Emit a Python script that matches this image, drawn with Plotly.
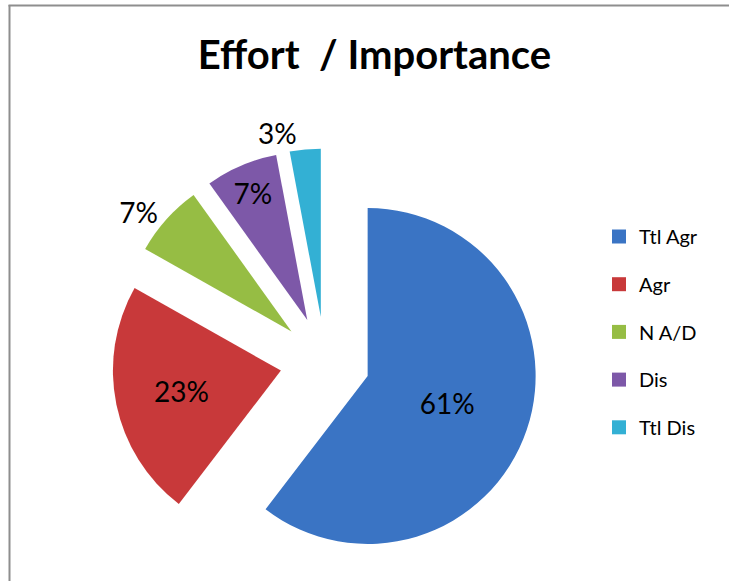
import plotly.graph_objects as go

# Survey response shares
categories = ["Ttl Agr", "Agr", "N A/D", "Dis", "Ttl Dis"]
values = [61, 23, 7, 7, 3]
colors = ["#3a74c4", "#c8393a", "#96bd44", "#7d58a8", "#33b0d4"]
label_pos = ["inside", "inside", "outside", "inside", "outside"]

W, H = 729, 581
FONT = "Lato"

fig = go.Figure()

fig.add_trace(go.Pie(
    labels=categories,
    values=values,
    sort=False,
    direction="clockwise",
    rotation=0,
    pull=[0.268] * len(values),
    marker=dict(colors=colors, line=dict(width=0)),
    texttemplate="%{value}%",
    textposition=label_pos,
    insidetextorientation="horizontal",
    textfont=dict(family=FONT, size=28, color="#000000"),
    domain=dict(x=[112 / W, 538 / W], y=[1 - 574.5 / H, 1 - 148.5 / H]),
    showlegend=False,
    hoverinfo="label+value",
))

# Legend entries, one group each so the row spacing can be set
for cat, col in zip(categories, colors):
    fig.add_trace(go.Scatter(
        x=[None], y=[None], mode="markers", name=cat,
        legendgroup=cat,
        marker=dict(symbol="square", size=14, color=col),
        hoverinfo="skip",
    ))

fig.update_layout(
    width=W, height=H,
    autosize=False,
    margin=dict(l=0, r=0, t=0, b=0, pad=0, autoexpand=False),
    paper_bgcolor="white",
    plot_bgcolor="white",
    xaxis=dict(visible=False),
    yaxis=dict(visible=False),
    title=dict(
        text="<b>Effort  / Importance</b>",
        font=dict(family=FONT, size=40, color="#000000"),
        x=374.5 / W, xanchor="center",
        y=1 - 55 / H, yanchor="middle",
    ),
    legend=dict(
        x=599 / W, xanchor="left",
        y=1 - 217 / H, yanchor="top",
        font=dict(family=FONT, size=20, color="#000000"),
        tracegroupgap=18.7,
        itemwidth=30,
        bgcolor="rgba(0,0,0,0)",
    ),
    shapes=[
        dict(type="line", xref="paper", yref="paper",
             x0=9.5 / W, x1=9.5 / W, y0=0, y1=1 - 5 / H,
             line=dict(color="#8e8e8e", width=2)),
        dict(type="line", xref="paper", yref="paper",
             x0=8.5 / W, x1=1, y0=1 - 5.5 / H, y1=1 - 5.5 / H,
             line=dict(color="#8e8e8e", width=2)),
    ],
)

fig.write_html("out.html")
